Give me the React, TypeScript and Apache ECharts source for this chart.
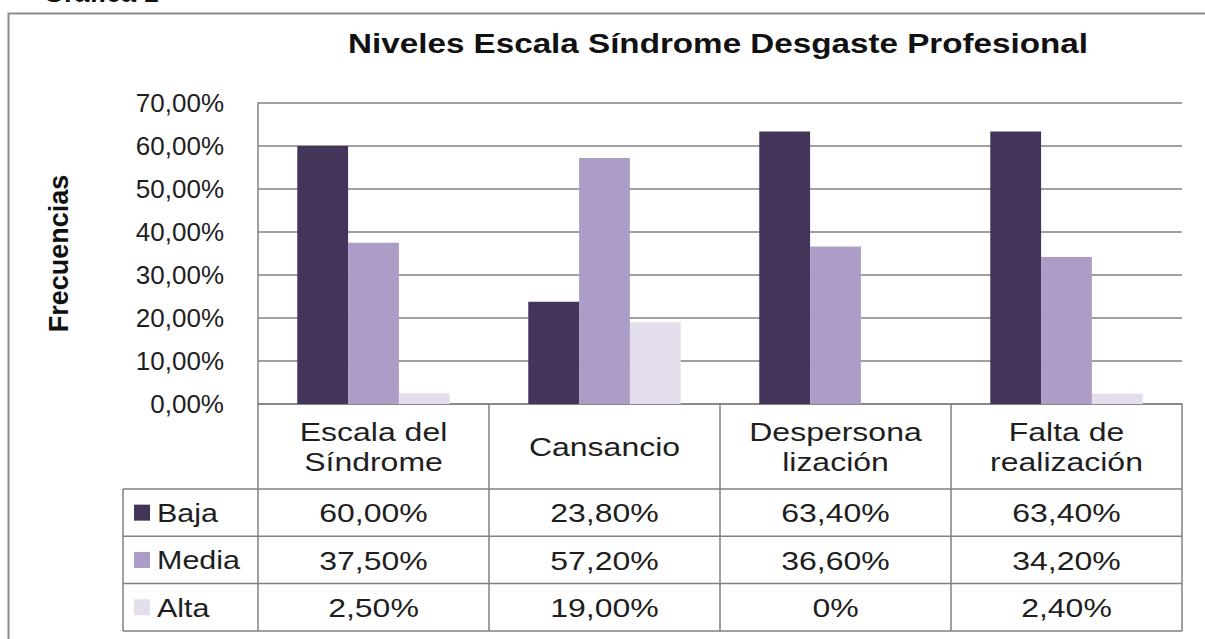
import React, { useEffect, useRef } from "react";
import * as echarts from "echarts";

const pageTitle = "Gráfica 1";
const chartTitle = "Niveles Escala Síndrome Desgaste Profesional";
const yAxisName = "Frecuencias";
const categories = ["Escala del\nSíndrome", "Cansancio", "Despersona\nlización", "Falta de\nrealización"];
const seriesNames = ["Baja", "Media", "Alta"];
const baja = [0.6, 0.238, 0.634, 0.634];
const media = [0.375, 0.572, 0.366, 0.342];
const alta = [0.025, 0.19, 0, 0.024];
const colors = ["#43345a", "#ab9dc5", "#e4deec"];
const yTicks = [0, 0.1, 0.2, 0.3, 0.4, 0.5, 0.6, 0.7];

const FONT = "'Liberation Sans', Arial, sans-serif";
const TEXT = "#1e1e1e";
const LINE = "#808080";

const fmtAxis = (v: number) => (v * 100).toFixed(2).replace(".", ",") + "%";
const fmtCell = (v: number) => (v === 0 ? "0%" : fmtAxis(v));

export default function App() {
  const ref = useRef<HTMLDivElement>(null);
  useEffect(() => {
    if (!ref.current) return;
    const chart = echarts.init(ref.current, null, { renderer: "svg" });
    const W = 1205;
    const H = 639;
    const gl = 258, gr = 23, gt = 103, gb = 235;
    const gridRightX = W - gr;
    const axisY = H - gb;
    const catW = (gridRightX - gl) / categories.length;
    const headerBottom = 489;
    const rowH = 47.3;
    const legendLeft = 123;
    const allSeries = [baja, media, alta];
    const wide = 1.28;

    const g: any[] = [];
    const txt = (x: number, y: number, text: string, extra: any = {}, sx = wide) => ({
      type: "text",
      x,
      y,
      scaleX: sx,
      silent: true,
      style: {
        text,
        fill: TEXT,
        fontSize: 25,
        fontFamily: FONT,
        align: "center",
        textAlign: "center",
        verticalAlign: "middle",
        textVerticalAlign: "middle",
        ...extra,
      },
    });
    const ln = (x1: number, y1: number, x2: number, y2: number) => ({
      type: "line",
      silent: true,
      shape: { x1, y1, x2, y2 },
      style: { stroke: LINE, lineWidth: 1.5 },
    });

    // outer frame
    g.push({ type: "rect", silent: true, shape: { x: 8.5, y: 13.5, width: 1400, height: 900 }, style: { fill: "none", stroke: "#8c8c8c", lineWidth: 2 } });
    // page caption (cut off at top in the reference)
    g.push(txt(43, 6, pageTitle, { align: "left", textAlign: "left", verticalAlign: "bottom", textVerticalAlign: "bottom", fontSize: 27, fontWeight: "bold", fill: "#111" }, 1));
    // chart title
    g.push(txt(718, 44, chartTitle, { fontSize: 27, fontWeight: "bold", fill: "#111" }, 1.23));

    // data table lines
    const rowsBottom = headerBottom + rowH * seriesNames.length;
    for (let i = 0; i <= categories.length; i++) {
      const x = gl + catW * i;
      g.push(ln(x, axisY, x, rowsBottom));
    }
    for (let r = 0; r <= seriesNames.length; r++) {
      const y = headerBottom + rowH * r;
      g.push(ln(legendLeft, y, gridRightX, y));
    }
    g.push(ln(legendLeft, headerBottom, legendLeft, rowsBottom));

    // header texts
    categories.forEach((c, i) => {
      g.push(txt(gl + catW * (i + 0.5), (axisY + headerBottom) / 2 + 1, c, { lineHeight: 30 }));
    });
    // rows
    seriesNames.forEach((name, r) => {
      const cy = headerBottom + rowH * (r + 0.5) + 1;
      g.push({ type: "rect", silent: true, shape: { x: 134, y: cy - 9, width: 16, height: 16 }, style: { fill: colors[r] } });
      g.push(txt(157, cy, name, { align: "left", textAlign: "left" }, 1.22));
      allSeries[r].forEach((v, i) => {
        g.push(txt(gl + catW * (i + 0.5), cy, fmtCell(v)));
      });
    });

    chart.setOption({
      animation: false,
      backgroundColor: "#ffffff",
      grid: { left: gl, right: gr, top: gt, bottom: gb, containLabel: false },
      xAxis: {
        type: "category",
        data: categories,
        axisLabel: { show: false },
        axisTick: { show: false },
        axisLine: { show: true, lineStyle: { color: LINE, width: 1.5 } },
      },
      yAxis: {
        type: "value",
        min: 0,
        max: yTicks[yTicks.length - 1],
        interval: 0.1,
        axisLine: { show: true, lineStyle: { color: LINE, width: 1.5 } },
        axisTick: { show: false },
        splitLine: { show: true, lineStyle: { color: LINE, width: 1.5 } },
        axisLabel: { formatter: fmtAxis, margin: 34, fontSize: 26, fontFamily: FONT, color: TEXT },
        name: yAxisName,
        nameLocation: "middle",
        nameRotate: 90,
        nameGap: 186,
        nameTextStyle: { fontSize: 27, fontWeight: "bold", fontFamily: FONT, color: "#111" },
      },
      series: seriesNames.map((n, i) => ({
        name: n,
        type: "bar",
        data: allSeries[i],
        barGap: "0%",
        barCategoryGap: "34%",
        itemStyle: { color: colors[i] },
        silent: true,
      })),
      graphic: g,
    });
    return () => chart.dispose();
  }, []);
  return <div ref={ref} style={{ position: "absolute", left: 0, top: 0, width: 1205, height: 639 }} />;
}
